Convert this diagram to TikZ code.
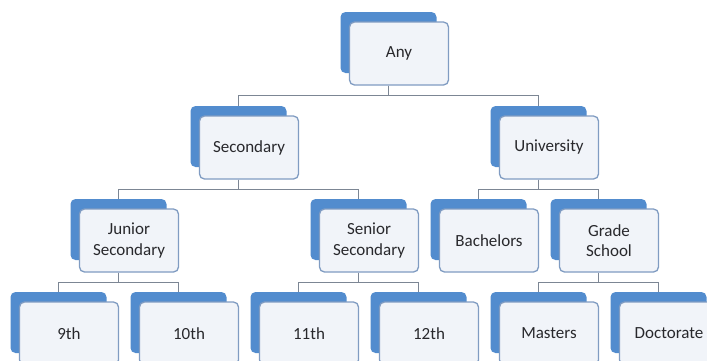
\documentclass[tikz,border=0pt]{standalone}
\usepackage{fontspec}
\setmainfont{Carlito}
\usepackage{tikz}
\usetikzlibrary{positioning}
\definecolor{tabblue}{RGB}{82,140,206}
\definecolor{cardfill}{RGB}{241,244,249}
\definecolor{cardedge}{RGB}{128,156,194}
\definecolor{linkgray}{RGB}{124,134,148}
\definecolor{labelgray}{RGB}{40,40,44}

\begin{document}
\begin{tikzpicture}[
  x=1pt,y=-1pt,
  back/.style={fill=tabblue,rounded corners=5pt,minimum width=96pt,
               minimum height=61pt,inner sep=0pt},
  card/.style={draw=cardedge,fill=cardfill,line width=1.3pt,rounded corners=5pt,
               minimum width=99pt,minimum height=63pt,inner sep=0pt,align=center,
               text=labelgray,font=\fontsize{17}{20.5}\selectfont},
  link/.style={draw=linkgray,line width=1.3pt}
]
\clip (0,0) rectangle (707,360);
\fill[white] (0,0) rectangle (707,360);
% root
\node[back] (anyb) at (388.5,42.5) {};
\node[card] (any)  at (399,53.5) {Any};
% second level
\node[back] (secb) at (238.5,136.5) {};
\node[card] (sec)  at (249,147.5) {Secondary};
\node[back] (unib) at (538.5,136.5) {};
\node[card] (uni)  at (549,147.5) {University};
% third level
\node[back] (junb) at (118.5,229.5) {};
\node[card] (jun)  at (129,240.5) {Junior\\Secondary};
\node[back] (senb) at (358.5,229.5) {};
\node[card] (sen)  at (369,240.5) {Senior\\Secondary};
\node[back] (bacb) at (478.5,229.5) {};
\node[card] (bac)  at (489,240.5) {Bachelors};
\node[back] (grab) at (598.5,229.5) {};
\node[card] (gra)  at (609,240.5) {Grade\\School};
% leaves
\node[back] (g9b)  at (58.5,322.5) {};
\node[card] (g9)   at (69,333.5) {9th};
\node[back] (g10b) at (178.5,322.5) {};
\node[card] (g10)  at (189,333.5) {10th};
\node[back] (g11b) at (298.5,322.5) {};
\node[card] (g11)  at (309,333.5) {11th};
\node[back] (g12b) at (418.5,322.5) {};
\node[card] (g12)  at (429,333.5) {12th};
\node[back] (masb) at (538.5,322.5) {};
\node[card] (mas)  at (549,333.5) {Masters};
\node[back] (docb) at (658.5,322.5) {};
\node[card] (doc)  at (669,333.5) {Doctorate};
% elbow connectors
\draw[link] (anyb |- any.south) -- ++(0,10) -| (secb.north);
\draw[link] (anyb |- any.south) -- ++(0,10) -| (unib.north);
\draw[link] (secb |- sec.south) -- ++(0,10) -| (junb.north);
\draw[link] (secb |- sec.south) -- ++(0,10) -| (senb.north);
\draw[link] (unib |- uni.south) -- ++(0,10) -| (bacb.north);
\draw[link] (unib |- uni.south) -- ++(0,10) -| (grab.north);
\draw[link] (junb |- jun.south) -- ++(0,10) -| (g9b.north);
\draw[link] (junb |- jun.south) -- ++(0,10) -| (g10b.north);
\draw[link] (senb |- sen.south) -- ++(0,10) -| (g11b.north);
\draw[link] (senb |- sen.south) -- ++(0,10) -| (g12b.north);
\draw[link] (grab |- gra.south) -- ++(0,10) -| (masb.north);
\draw[link] (grab |- gra.south) -- ++(0,10) -| (docb.north);
\end{tikzpicture}
\end{document}
